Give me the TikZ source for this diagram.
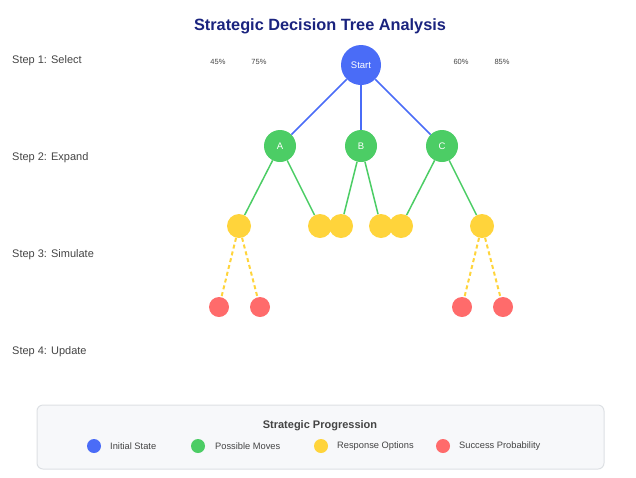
\documentclass[tikz,border=0pt]{standalone}
\usepackage{fontspec}
\setmainfont{Liberation Sans}
\usepackage{tikz}
\usetikzlibrary{positioning}
\definecolor{navy}{HTML}{1A237E}
\definecolor{startblue}{HTML}{4A6CF7}
\definecolor{movegreen}{HTML}{4CCD65}
\definecolor{respyellow}{HTML}{FFD43B}
\definecolor{winred}{HTML}{FF6B6B}
\definecolor{labelgray}{HTML}{444444}
\definecolor{panelfill}{HTML}{F7F8FA}
\definecolor{panelline}{HTML}{DDE0E4}

\begin{document}
\begin{tikzpicture}[x=1pt, y=-1pt,
  root/.style={circle, fill=startblue, minimum size=40pt, inner sep=0pt, text=white, font=\fontsize{9.5}{10}\selectfont},
  move/.style={circle, fill=movegreen, minimum size=32pt, inner sep=0pt, text=white, font=\fontsize{9.5}{10}\selectfont},
  resp/.style={circle, fill=respyellow, minimum size=24pt, inner sep=0pt},
  win/.style={circle, fill=winred, minimum size=20pt, inner sep=0pt},
  steplab/.style={anchor=west, inner sep=0pt, text=labelgray, font=\fontsize{11}{12}\selectfont},
  pct/.style={text=labelgray, font=\fontsize{7.5}{8}\selectfont},
  dot/.style={circle, inner sep=0pt, minimum size=14pt},
  legtext/.style={anchor=west, inner sep=0pt, text=labelgray, font=\fontsize{9.3}{10}\selectfont},
  blueedge/.style={draw=startblue, line width=1.5pt},
  greenedge/.style={draw=movegreen, line width=1.5pt},
  simedge/.style={draw=respyellow, line width=2pt, dash pattern=on 4pt off 3pt}]
\useasboundingbox (0,0) rectangle (636,477);
\node[font=\bfseries\fontsize{16.3}{18}\selectfont, text=navy] (title) at (320,26) {Strategic Decision Tree Analysis};
% step labels
\node[steplab] (s1) at (12,61) {Step 1: Select};
\node[steplab] (s2) at (12,158) {Step 2: Expand};
\node[steplab] (s3) at (12,255) {Step 3: Simulate};
\node[steplab] (s4) at (12,352) {Step 4: Update};
% percentages
\node[pct] (p45) at (218,62) {45\%};
\node[pct] (p75) at (259,62) {75\%};
\node[pct] (p60) at (461,62) {60\%};
\node[pct] (p85) at (502,62) {85\%};
% tree
\node[root] (start) at (361,65) {Start};
\node[move] (a) at (280,146) {A};
\node[move] (b) at (361,146) {B};
\node[move] (c) at (442,146) {C};
\draw[blueedge] (start) -- (a); \draw[blueedge] (start) -- (b); \draw[blueedge] (start) -- (c);
\node[resp] (a1) at (239,226) {};
\node[resp] (a2) at (320,226) {};
\node[resp] (b1) at (341,226) {};
\node[resp] (b2) at (381,226) {};
\node[resp] (c1) at (401,226) {};
\node[resp] (c2) at (482,226) {};
\draw[greenedge] (a) -- (a1); \draw[greenedge] (a) -- (a2);
\draw[greenedge] (b) -- (b1); \draw[greenedge] (b) -- (b2);
\draw[greenedge] (c) -- (c1); \draw[greenedge] (c) -- (c2);
\node[win] (r1) at (219,307) {};
\node[win] (r2) at (260,307) {};
\node[win] (r3) at (462,307) {};
\node[win] (r4) at (503,307) {};
\draw[simedge] (a1) -- (r1); \draw[simedge] (a1) -- (r2);
\draw[simedge] (c2) -- (r3); \draw[simedge] (c2) -- (r4);
% legend
\node[draw=panelline, line width=1pt, fill=panelfill, rounded corners=6pt, minimum width=567pt, minimum height=64pt] (legend) at (320.5,437) {};
\node[font=\bfseries\fontsize{11}{12}\selectfont, text=labelgray] (legtitle) at (320,426) {Strategic Progression};
\node[dot, fill=startblue] (d1) at (94,446) {};
\node[legtext] (t1) at (110,446.5) {Initial State};
\node[dot, fill=movegreen] (d2) at (198,446) {};
\node[legtext] (t2) at (215,446.5) {Possible Moves};
\node[dot, fill=respyellow] (d3) at (321,446) {};
\node[legtext] (t3) at (337,446.5) {Response Options};
\node[dot, fill=winred] (d4) at (443,446) {};
\node[legtext] (t4) at (459,446.5) {Success Probability};
\end{tikzpicture}
\end{document}
